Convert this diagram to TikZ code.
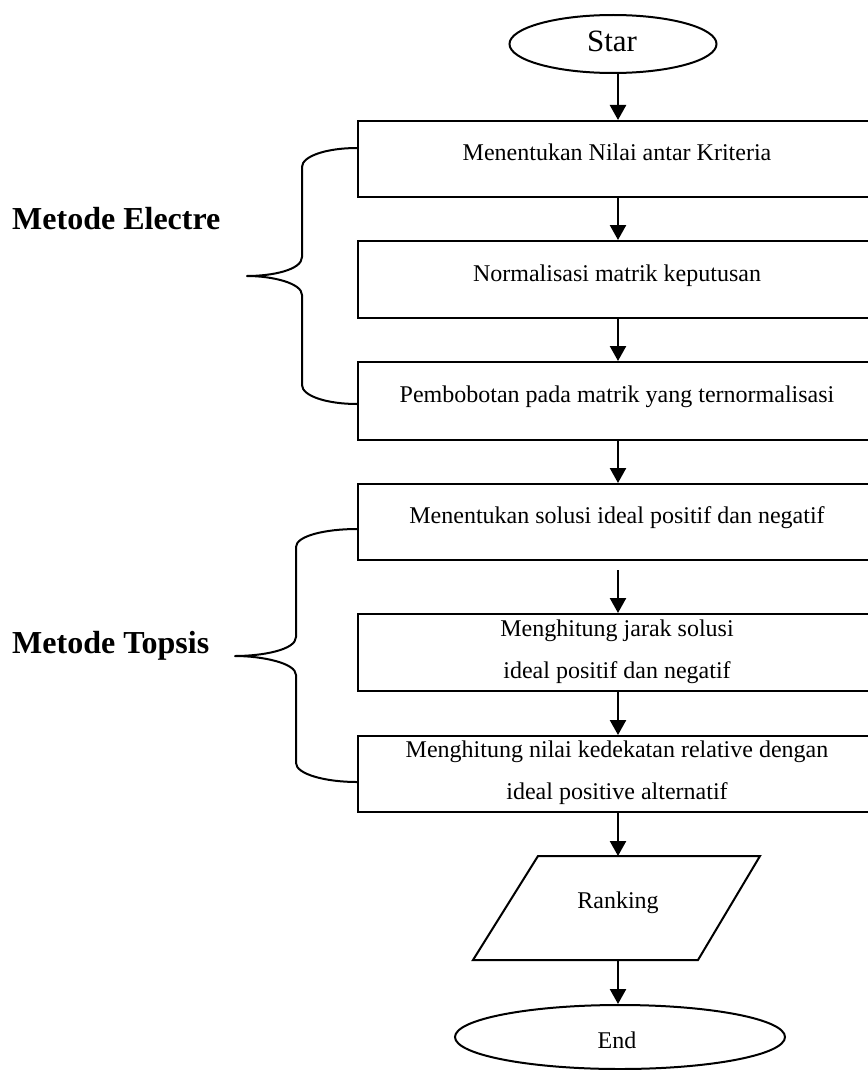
\documentclass[tikz,border=0pt]{standalone}
\usepackage{fontspec}
\setmainfont{Liberation Serif}
\usetikzlibrary{shapes.geometric,arrows.meta}
\begin{document}
\begin{tikzpicture}[x=1pt,y=-1pt,
  box/.style={draw,line width=2pt,rectangle,minimum width=520pt,anchor=north west,inner sep=0pt},
  txt/.style={anchor=base,inner sep=0pt,font=\fontsize{24}{28}\selectfont},
  lbl/.style={anchor=base west,inner sep=0pt,font=\fontsize{32}{36}\selectfont\bfseries},
  term/.style={draw,line width=2pt,ellipse,inner sep=0pt},
  arr/.style={line width=2.4pt,-{Triangle[width=16pt,length=15pt]}},
  brace/.style={line width=2pt,line join=round}]
\useasboundingbox (0,0) rectangle (867,1070);
% terminals
\node[term,minimum width=207pt,minimum height=58pt] (start) at (613,44) {};
\node[txt,font=\fontsize{31}{34}\selectfont] (starttxt) at (612,52) {Star};
\node[term,minimum width=330pt,minimum height=64pt] (end) at (620,1037) {};
\node[txt] (endtxt) at (617,1048) {End};
% boxes
\node[box,minimum height=76pt] (b1) at (357,120) {};
\node[box,minimum height=77pt] (b2) at (357,240) {};
\node[box,minimum height=78pt] (b3) at (357,361) {};
\node[box,minimum height=76pt] (b4) at (357,483) {};
\node[box,minimum height=77pt] (b5) at (357,613) {};
\node[box,minimum height=76pt] (b6) at (357,735) {};
\node[txt] (t1) at (617,160) {Menentukan Nilai antar Kriteria};
\node[txt] (t2) at (617,281) {Normalisasi matrik keputusan};
\node[txt] (t3) at (617,402) {Pembobotan pada matrik yang ternormalisasi};
\node[txt] (t4) at (617,523) {Menentukan solusi ideal positif dan negatif};
\node[txt] (t5a) at (617,636) {Menghitung jarak solusi};
\node[txt] (t5b) at (617,678) {ideal positif dan negatif};
\node[txt] (t6a) at (617,757) {Menghitung nilai kedekatan relative dengan};
\node[txt] (t6b) at (617,799) {ideal positive alternatif};
% parallelogram
\coordinate (p1) at (538,856);
\coordinate (p2) at (760,856);
\coordinate (p3) at (698,960);
\coordinate (p4) at (473,960);
\draw[line width=2pt,line join=miter] (p1) -- (p2) -- (p3) -- (p4) -- cycle;
\node[txt] (rank) at (618,908) {Ranking};
\coordinate (ptop) at (618,856);
\coordinate (pbot) at (618,960);
% arrows
\coordinate (a0) at (618,73);
\draw[arr] (a0) -- (b1.north -| a0);
\draw[arr] (b1.south -| a0) -- (b2.north -| a0);
\draw[arr] (b2.south -| a0) -- (b3.north -| a0);
\draw[arr] (b3.south -| a0) -- (b4.north -| a0);
\coordinate (a4) at (618,570);
\draw[arr] (a4) -- (b5.north -| a0);
\draw[arr] (b5.south -| a0) -- (b6.north -| a0);
\draw[arr] (b6.south -| a0) -- (ptop);
\draw[arr] (pbot) -- (end.north -| a0);
% braces
\coordinate (e1) at (357,148);
\coordinate (e2) at (357,404);
\draw[brace] (e1) .. controls (327,148) and (302,156) .. (302,167)
  -- (302,257) .. controls (302,270) and (272,276) .. (247,276)
  .. controls (272,276) and (302,283) .. (302,295)
  -- (302,385) .. controls (302,396) and (327,404) .. (e2);
\coordinate (s1) at (357,529);
\coordinate (s2) at (357,782);
\draw[brace] (s1) .. controls (325,529) and (296,536) .. (296,547)
  -- (296,637) .. controls (296,650) and (262,656) .. (235,656)
  .. controls (262,656) and (296,663) .. (296,675)
  -- (296,763) .. controls (296,774) and (325,782) .. (s2);
\node[lbl] (electre) at (12,229) {Metode Electre};
\node[lbl] (topsis) at (12,653) {Metode Topsis};
\end{tikzpicture}
\end{document}
